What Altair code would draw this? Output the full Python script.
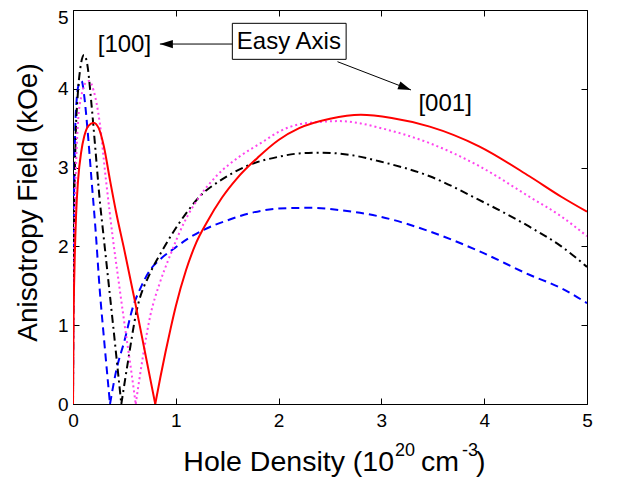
import altair as alt
import pandas as pd

FONT = "Liberation Sans"

# ---------------- data ----------------
x_ticks = [0, 1, 2, 3, 4, 5]
y_ticks = [0, 1, 2, 3, 4, 5]

# red solid
red_xa = [0, 0.005, 0.015, 0.03, 0.05, 0.08, 0.11, 0.15, 0.2, 0.25, 0.3, 0.36, 0.42, 0.5, 0.6, 0.7, 0.8]
red_ya = [0, 1.0, 1.75, 2.4, 2.85, 3.2, 3.4, 3.53, 3.57, 3.5, 3.27, 2.84, 2.43, 1.95, 1.32, 0.66, 0]
red_xb = [0.8, 0.85, 0.9, 0.95, 1.0, 1.1, 1.2, 1.3, 1.45, 1.6, 1.8, 2.0, 2.2, 2.5, 2.8, 3.1, 3.47, 3.95, 4.44, 4.75, 5.0]
red_yb = [0, 0.34, 0.66, 0.96, 1.24, 1.70, 2.05, 2.3, 2.62, 2.87, 3.13, 3.35, 3.5, 3.62, 3.67, 3.63, 3.52, 3.27, 2.89, 2.63, 2.44]

# magenta dotted
mag_xa = [0, 0.005, 0.015, 0.03, 0.05, 0.08, 0.12, 0.158, 0.2, 0.26, 0.32, 0.39, 0.45, 0.505, 0.56, 0.61]
mag_ya = [0, 1.3, 2.3, 3.05, 3.6, 3.9, 4.07, 4.1, 3.98, 3.57, 2.85, 2.08, 1.5, 0.98, 0.48, 0]
mag_xb = [0.61, 0.68, 0.75, 0.84, 0.94, 1.08, 1.23, 1.4, 1.62, 1.85, 2.01, 2.2, 2.4, 2.59, 2.8, 3.0, 3.47, 3.95, 4.44, 4.75, 5.0]
mag_yb = [0, 0.6, 1.11, 1.52, 1.87, 2.3, 2.63, 2.9, 3.14, 3.33, 3.46, 3.55, 3.58, 3.59, 3.56, 3.5, 3.31, 3.02, 2.63, 2.38, 2.13]

# black dash-dot
blk_xa = [0, 0.004, 0.012, 0.025, 0.045, 0.07, 0.107, 0.14, 0.18, 0.22, 0.26, 0.3, 0.35, 0.39, 0.43, 0.47]
blk_ya = [0, 1.4, 2.5, 3.35, 3.9, 4.25, 4.43, 4.3, 3.8, 3.2, 2.59, 2.1, 1.49, 1.0, 0.5, 0]
blk_xb = [0.47, 0.53, 0.62, 0.75, 0.86, 0.97, 1.1, 1.23, 1.45, 1.69, 2.01, 2.2, 2.4, 2.7, 2.98, 3.47, 3.95, 4.44, 4.75, 5.0]
blk_yb = [0, 0.5, 1.19, 1.66, 1.93, 2.17, 2.42, 2.63, 2.85, 3.02, 3.14, 3.18, 3.19, 3.16, 3.08, 2.89, 2.59, 2.25, 2.0, 1.74]

# blue dashed
blu_xa = [0, 0.004, 0.01, 0.02, 0.035, 0.055, 0.084, 0.11, 0.14, 0.18, 0.22, 0.26, 0.3, 0.33, 0.36]
blu_ya = [0, 1.6, 2.6, 3.4, 3.85, 4.05, 4.1, 3.9, 3.5, 2.85, 2.2, 1.45, 0.85, 0.42, 0]
blu_xb = [0.36, 0.42, 0.5, 0.585, 0.66, 0.75, 0.86, 0.97, 1.12, 1.27, 1.5, 1.72, 2.0, 2.33, 2.6, 2.98, 3.47, 3.95, 4.44, 4.75, 5.0]
blu_yb = [0, 0.42, 0.8, 1.24, 1.48, 1.70, 1.85, 1.96, 2.1, 2.21, 2.33, 2.42, 2.48, 2.49, 2.46, 2.38, 2.19, 1.94, 1.64, 1.47, 1.28]

# annotations (data coordinates)
ann_labels = ["[100]", "Easy Axis", "[001]"]
ann_x = [0.50, 2.10, 3.62]
ann_y = [4.556, 4.60, 3.81]

box_x = [1.55]
box_x2 = [2.657]
box_y = [4.831]
box_y2 = [4.374]

arrow_x = [1.55, 2.573]
arrow_y = [4.568, 4.344]
arrow_x2 = [0.845, 3.288]
arrow_y2 = [4.568, 3.985]
arrow_angle = [180, 21]

# ---------------- build tables ----------------
def series_df(xa, ya, xb, yb):
    rows = [{"x": x, "y": y, "seg": "a"} for x, y in zip(xa, ya)]
    rows += [{"x": x, "y": y, "seg": "b"} for x, y in zip(xb, yb)]
    return pd.DataFrame(rows)

W, H = 514, 394
xs = alt.Scale(domain=[0, 5], nice=False, zero=False)
ys = alt.Scale(domain=[0, 5], nice=False, zero=False)
inward = alt.ExprRef(expr="-6")

x_axis = alt.Axis(values=x_ticks, format="d", tickSize=inward, labelPadding=13,
                  labelFontSize=19, labelFlush=False, labelOverlap=False, grid=False,
                  title=None, domainColor="black", tickColor="black", labelColor="black",
                  labelFont=FONT)
y_axis = alt.Axis(values=y_ticks, format="d", tickSize=inward, labelPadding=11,
                  labelFontSize=19, labelFlush=False, labelOverlap=False, grid=False,
                  labelOffset={"condition": {"test": "datum.value == 5", "value": 7}, "value": 0},
                  title="Anisotropy Field (kOe)", titleFontSize=28, titleFont=FONT,
                  titleFontWeight="normal", titleColor="black", titleX=-45, titleY=192,
                  titleAlign="center", titleBaseline="middle", titleAngle=270,
                  domainColor="black", tickColor="black", labelColor="black", labelFont=FONT)


def line_layer(df, color, dash=None, axes=False):
    mk = dict(color=color, strokeWidth=2, interpolate="monotone", clip=True)
    if dash is not None:
        mk["strokeDash"] = dash
    return alt.Chart(df).mark_line(**mk).encode(
        x=alt.X("x:Q", scale=xs, axis=x_axis if axes else None),
        y=alt.Y("y:Q", scale=ys, axis=y_axis if axes else None),
        detail="seg:N",
    )


blue = line_layer(series_df(blu_xa, blu_ya, blu_xb, blu_yb), "#0000ff", [8, 5], axes=True)
black = line_layer(series_df(blk_xa, blk_ya, blk_xb, blk_yb), "#000000", [8, 4, 2, 4])
mag = line_layer(series_df(mag_xa, mag_ya, mag_xb, mag_yb), "#ff44ee", [2, 3])
red = line_layer(series_df(red_xa, red_ya, red_xb, red_yb), "#ff0000")

# frame axes on top and right (ticks only)
frame_df = pd.DataFrame({"x": x_ticks, "y": y_ticks})
frame = alt.Chart(frame_df).mark_point(opacity=0).encode(
    x=alt.X("x:Q", scale=xs, axis=alt.Axis(orient="top", values=x_ticks, labels=False,
                                            tickSize=inward, title=None, grid=False,
                                            domainColor="black", tickColor="black")),
    y=alt.Y("y:Q", scale=ys, axis=alt.Axis(orient="right", values=y_ticks, labels=False,
                                            tickSize=inward, title=None, grid=False,
                                            domainColor="black", tickColor="black")),
)

# annotation box, arrows, heads, labels
box = alt.Chart(pd.DataFrame({"x": box_x, "x2": box_x2, "y": box_y, "y2": box_y2})).mark_rect(
    fill="white", stroke="black", strokeWidth=1
).encode(x=alt.X("x:Q", scale=xs, axis=None), x2="x2:Q",
         y=alt.Y("y:Q", scale=ys, axis=None), y2="y2:Q")

arr_df = pd.DataFrame({"x": arrow_x, "y": arrow_y, "x2": arrow_x2, "y2": arrow_y2, "angle": arrow_angle})
arrows = alt.Chart(arr_df).mark_rule(color="black", strokeWidth=1).encode(
    x=alt.X("x:Q", scale=xs, axis=None), y=alt.Y("y:Q", scale=ys, axis=None),
    x2="x2:Q", y2="y2:Q")
heads = alt.Chart(arr_df).mark_point(
    shape="M0,0L-1,-0.32L-1,0.32Z", filled=True, color="black", opacity=1, size=676, strokeWidth=0
).encode(x=alt.X("x2:Q", scale=xs, axis=None), y=alt.Y("y2:Q", scale=ys, axis=None),
         angle=alt.Angle("angle:Q", scale=None))

labels = alt.Chart(pd.DataFrame({"t": ann_labels, "x": ann_x, "y": ann_y})).mark_text(
    font=FONT, fontSize=24, align="center", baseline="middle", color="black"
).encode(x=alt.X("x:Q", scale=xs, axis=None), y=alt.Y("y:Q", scale=ys, axis=None), text="t:N")

# x axis title with superscripts
one = pd.DataFrame({"a": [0]})


def piece(txt, px, py, size, align="left"):
    return alt.Chart(one).mark_text(text=txt, font=FONT, fontSize=size, align=align,
                                    baseline="alphabetic", color="black").encode(
        x=alt.value(px), y=alt.value(py))


xtitle = (piece("Hole Density (10", 321, 461, 28.5, "right") + piece("20", 322, 446, 18)
          + piece("cm", 348, 461, 28.5) + piece("-3", 389, 446, 18) + piece(")", 403, 461, 28.5))

chart = alt.layer(blue, black, mag, red, frame, box, arrows, heads, labels, xtitle).resolve_axis(
    x="independent", y="independent"
).properties(
    width=W, height=H,
    autosize=alt.AutoSizeParams(type="none"),
    padding={"left": 65, "top": 2, "right": 28, "bottom": 73},
).configure_view(stroke="black", strokeWidth=1).configure(font=FONT)

chart.save("out.html", embed_options={"renderer": "svg", "actions": False})
